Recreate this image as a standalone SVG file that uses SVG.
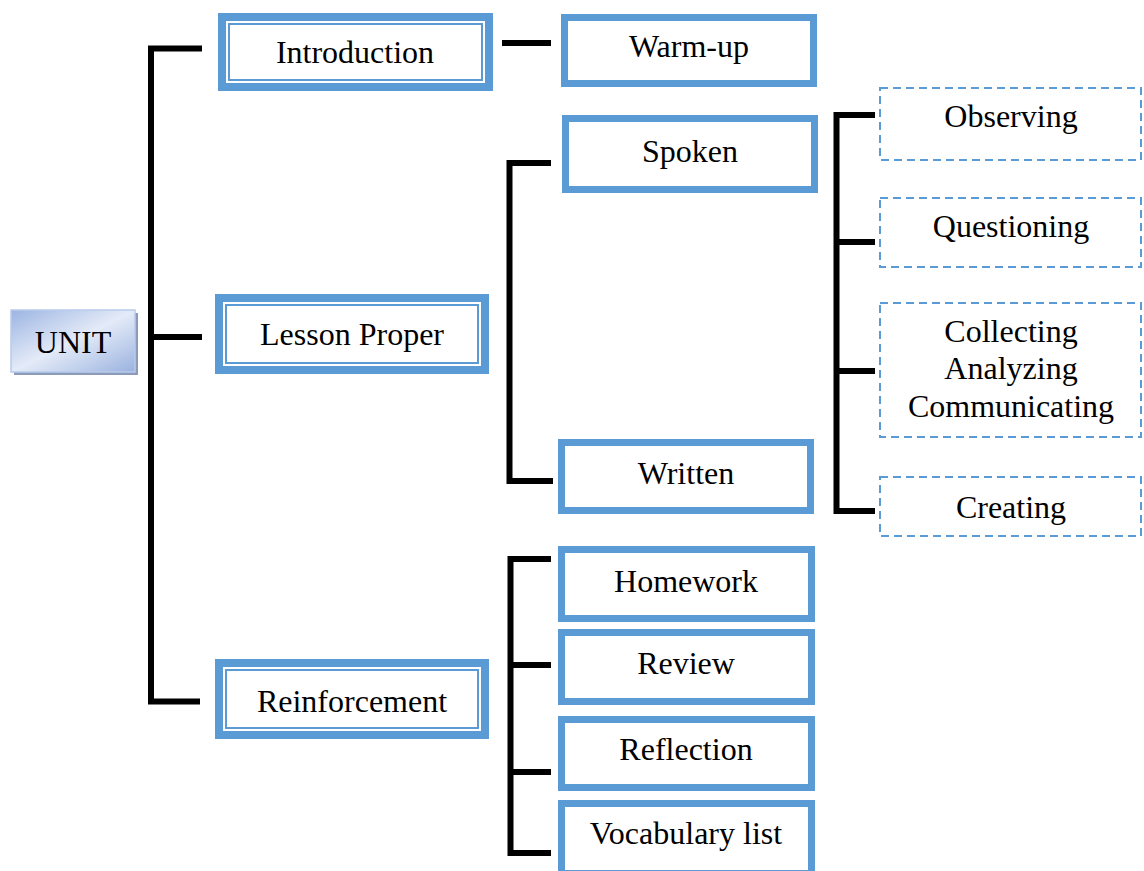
<svg xmlns="http://www.w3.org/2000/svg" width="1144" height="871" viewBox="0 0 1144 871">
<defs>
<linearGradient id="unitGrad" x1="0" y1="0" x2="1" y2="1">
<stop offset="0" stop-color="#9cb4e2"/>
<stop offset="0.5" stop-color="#e4ebf8"/>
<stop offset="1" stop-color="#9ab2df"/>
</linearGradient>
<style>
text{font-family:"Liberation Serif","Times New Roman",serif;font-size:32px;fill:#000;text-anchor:middle}
.solid{fill:#fff;stroke:#5b9bd5;stroke-width:7}
.outer{fill:#fff;stroke:#5b9bd5;stroke-width:8}
.inner{fill:none;stroke:#5b9bd5;stroke-width:2}
.dash{fill:#fff;stroke:#5b9bd5;stroke-width:2;stroke-dasharray:8 5}
.conn{fill:none;stroke:#000;stroke-width:6;stroke-linejoin:miter;stroke-linecap:butt}
</style>
</defs>
<rect width="1144" height="871" fill="#fff"/>

<g id="connectors">
<path class="conn" d="M202,48.5 H151 V701.5 H200 M151,337 H202"/>
<path class="conn" d="M502,43 H551"/>
<path class="conn" d="M551,163 H509.5 V481 H553"/>
<path class="conn" d="M551,559 H510.5 V853 H551 M510.5,665 H551 M510.5,772 H551"/>
<path class="conn" d="M875,115 H836.5 V511 H875 M836.5,242 H875 M836.5,371 H875"/>
</g>

<g id="unit">
<rect x="14" y="313" width="124" height="62" fill="#8c9cb8"/>
<rect x="11" y="310" width="124" height="62" fill="url(#unitGrad)" stroke="#b8cbec" stroke-width="1.5"/>
<text x="73" y="353" font-size="33">UNIT</text>
</g>

<g id="introduction">
<rect class="outer" x="222" y="17" width="267" height="70"/>
<rect class="inner" x="229" y="24" width="253" height="56"/>
<text x="355" y="63">Introduction</text>
</g>

<g id="lesson-proper">
<rect class="outer" x="219" y="298" width="266" height="72"/>
<rect class="inner" x="226" y="305" width="252" height="58"/>
<text x="352" y="345">Lesson Proper</text>
</g>

<g id="reinforcement">
<rect class="outer" x="219" y="663" width="266" height="72"/>
<rect class="inner" x="226" y="670" width="252" height="58"/>
<text x="352" y="712">Reinforcement</text>
</g>

<g id="warm-up">
<rect class="solid" x="564.5" y="17.5" width="249" height="66"/>
<text x="689" y="57">Warm-up</text>
</g>

<g id="spoken">
<rect class="solid" x="565.5" y="118.5" width="249" height="71"/>
<text x="690" y="162">Spoken</text>
</g>

<g id="written">
<rect class="solid" x="561.5" y="442.5" width="249" height="68"/>
<text x="686" y="484">Written</text>
</g>

<g id="homework">
<rect class="solid" x="561.5" y="549.5" width="250" height="69"/>
<text x="686" y="592">Homework</text>
</g>

<g id="review">
<rect class="solid" x="561.5" y="632.5" width="250" height="69"/>
<text x="686" y="674">Review</text>
</g>

<g id="reflection">
<rect class="solid" x="561.5" y="719.5" width="250" height="68"/>
<text x="686" y="760">Reflection</text>
</g>

<g id="vocabulary-list">
<rect class="solid" x="561.5" y="803.5" width="250" height="70"/>
<text x="686" y="844">Vocabulary list</text>
</g>

<g id="observing">
<rect class="dash" x="880" y="88" width="261" height="72"/>
<text x="1011" y="127">Observing</text>
</g>

<g id="questioning">
<rect class="dash" x="880" y="198" width="261" height="69"/>
<text x="1011" y="237">Questioning</text>
</g>

<g id="collecting">
<rect class="dash" x="880" y="303" width="261" height="134"/>
<text x="1011" y="342">Collecting</text>
<text x="1011" y="379">Analyzing</text>
<text x="1011" y="417">Communicating</text>
</g>

<g id="creating">
<rect class="dash" x="880" y="477" width="261" height="59"/>
<text x="1011" y="518">Creating</text>
</g>
</svg>
